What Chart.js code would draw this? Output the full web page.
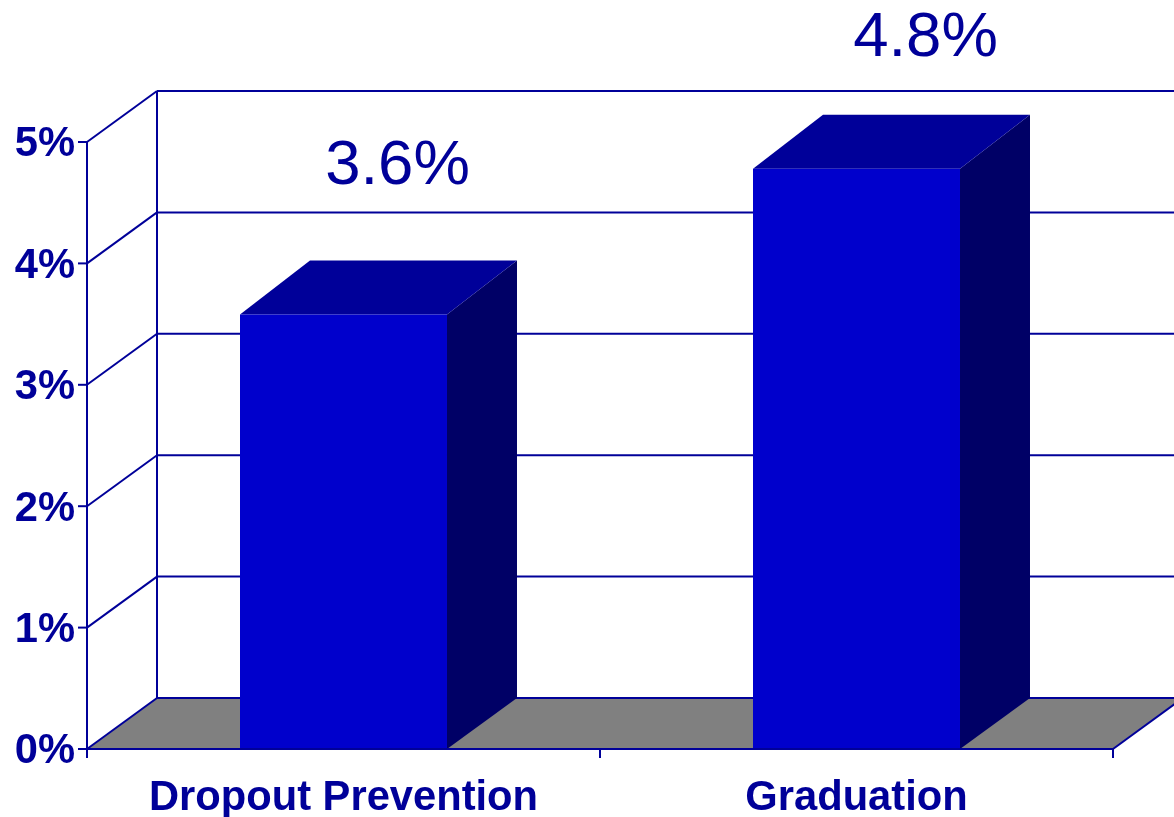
<!DOCTYPE html>
<html>
<head>
<meta charset="utf-8">
<style>
  html, body { margin: 0; padding: 0; background: #fff; overflow: hidden; }
  canvas { display: block; }
</style>
<script src="https://cdn.jsdelivr.net/npm/chart.js@4"></script>
</head>
<body>
<canvas id="chart" width="1174" height="817"></canvas>
<script>
var categories = ['Dropout Prevention', 'Graduation'];
var values = [3.58, 4.78];
var valueLabels = ['3.6%', '4.8%'];
var yTicks = [0, 1, 2, 3, 4, 5];

var NAVY = '#000099';
var FONT = '"Liberation Sans", Arial, sans-serif';
// fake 3d depth, walls and bars differ slightly in the original
var WALL = { dx: 70, dy: -51 };
var BAR = { dx: 70, dy: -54 };
// data labels are placed by hand in the original, relative to the bar top centre
var LABEL_SHIFT = [{ x: 54, y: -130.5 }, { x: 69, y: -113 }];

function poly(ctx, pts, fill) {
    ctx.beginPath();
    ctx.moveTo(pts[0][0], pts[0][1]);
    for (var i = 1; i < pts.length; i++) ctx.lineTo(pts[i][0], pts[i][1]);
    ctx.closePath();
    ctx.fillStyle = fill;
    ctx.fill();
}

function line(ctx, x1, y1, x2, y2) {
    ctx.beginPath();
    ctx.moveTo(x1, y1);
    ctx.lineTo(x2, y2);
    ctx.stroke();
}

var box3d = {
    id: 'box3d',
    beforeDatasetsDraw: function (chart) {
        var ctx = chart.ctx;
        var yScale = chart.scales.y;
        var a = chart.chartArea;
        var zero = yScale.getPixelForValue(0);
        ctx.save();
        poly(ctx, [[a.left, zero], [a.left + WALL.dx, zero + WALL.dy],
            [a.right + WALL.dx, zero + WALL.dy], [a.right, zero]], '#808080');
        ctx.strokeStyle = NAVY;
        ctx.lineWidth = 2;
        yTicks.forEach(function (t) {
            var y = yScale.getPixelForValue(t);
            line(ctx, a.left - 9, y, a.left, y);
            line(ctx, a.left, y, a.left + WALL.dx, y + WALL.dy);
            line(ctx, a.left + WALL.dx, y + WALL.dy, a.right + WALL.dx, y + WALL.dy);
        });
        line(ctx, a.left, yScale.getPixelForValue(5), a.left, zero + 9);
        line(ctx, a.left + WALL.dx, yScale.getPixelForValue(5) + WALL.dy, a.left + WALL.dx, zero + WALL.dy);
        line(ctx, a.right, zero, a.right + WALL.dx, zero + WALL.dy);
        // sides and tops of the bars
        chart.getDatasetMeta(0).data.forEach(function (bar) {
            var l = bar.x - bar.width / 2, r = bar.x + bar.width / 2;
            poly(ctx, [[r, bar.y], [r + BAR.dx, bar.y + BAR.dy],
                [r + BAR.dx, bar.base + WALL.dy], [r, bar.base]], '#000066');
            poly(ctx, [[l, bar.y], [l + BAR.dx, bar.y + BAR.dy],
                [r + BAR.dx, bar.y + BAR.dy], [r, bar.y]], '#000099');
        });
        ctx.restore();
    },
    afterDatasetsDraw: function (chart) {
        var ctx = chart.ctx;
        var a = chart.chartArea;
        var zero = chart.scales.y.getPixelForValue(0);
        var xScale = chart.scales.x;
        var mid = (xScale.getPixelForValue(0) + xScale.getPixelForValue(1)) / 2;
        ctx.save();
        ctx.strokeStyle = NAVY;
        ctx.lineWidth = 2;
        line(ctx, a.left, zero, a.right, zero);
        line(ctx, a.left, zero, a.left, zero + 9);
        line(ctx, mid, zero, mid, zero + 9);
        line(ctx, a.right, zero, a.right, zero + 9);
        ctx.fillStyle = NAVY;
        ctx.font = '63.5px ' + FONT;
        ctx.textAlign = 'center';
        ctx.textBaseline = 'alphabetic';
        chart.getDatasetMeta(0).data.forEach(function (bar, i) {
            ctx.fillText(valueLabels[i], bar.x + LABEL_SHIFT[i].x, bar.y + LABEL_SHIFT[i].y);
        });
        ctx.restore();
    }
};

new Chart(document.getElementById('chart'), {
    type: 'bar',
    data: {
        labels: categories,
        datasets: [{
            data: values,
            backgroundColor: '#0000cc',
            borderWidth: 0,
            categoryPercentage: 1,
            barPercentage: 0.4035
        }]
    },
    options: {
        responsive: false,
        animation: false,
        layout: { padding: { top: 142, right: 61, left: 0, bottom: 0 } },
        plugins: { legend: { display: false }, tooltip: { enabled: false } },
        scales: {
            x: {
                grid: { display: false },
                border: { display: false },
                afterFit: function (scale) { scale.height = 68; },
                ticks: {
                    color: NAVY, padding: 16, maxRotation: 0, autoSkip: false,
                    font: { family: FONT, size: 41.7, weight: 'bold' }
                }
            },
            y: {
                min: 0, max: 5,
                grid: { display: false },
                border: { display: false },
                afterFit: function (scale) { scale.width = 87; },
                ticks: {
                    color: NAVY, padding: 4, stepSize: 1, labelOffset: 3,
                    font: { family: FONT, size: 41.7, weight: 'bold' },
                    callback: function (v) { return v + '%'; }
                }
            }
        }
    },
    plugins: [box3d]
});
</script>
</body>
</html>
